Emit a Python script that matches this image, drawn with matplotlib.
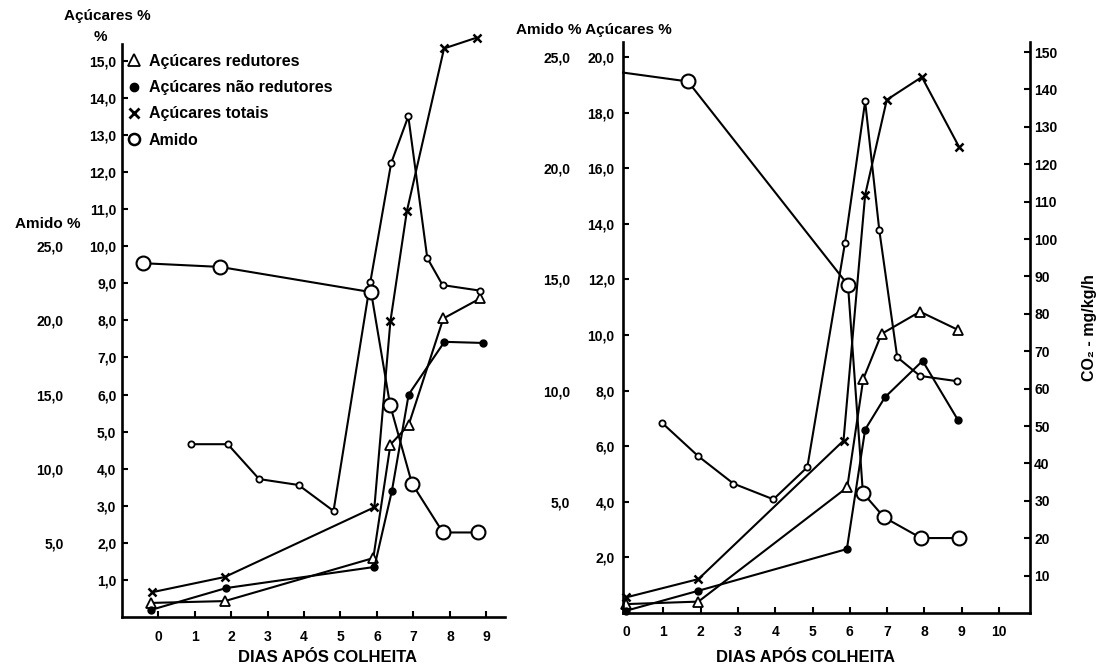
import matplotlib.pyplot as plt
from matplotlib.lines import Line2D

plt.rcParams['font.family'] = ['Liberation Sans', 'DejaVu Sans']
plt.rcParams['font.weight'] = 'bold'
plt.rcParams['axes.labelweight'] = 'bold'

# ---- left panel (sugar %, starch %) ----
red_L_day = [-0.2, 1.83, 5.9, 6.37, 6.87, 7.82, 8.83]
red_L = [0.38, 0.43, 1.59, 4.65, 5.18, 8.05, 8.59]
nred_L_day = [-0.2, 1.86, 5.93, 6.41, 6.87, 7.85, 8.9]
nred_L = [0.19, 0.78, 1.35, 3.4, 6.0, 7.42, 7.39]
tot_L_day = [-0.16, 1.83, 5.93, 6.37, 6.82, 7.84, 8.73]
tot_L = [0.67, 1.08, 2.96, 7.98, 10.94, 15.33, 15.62]
amido_L_day = [-0.41, 1.70, 5.84, 6.36, 6.96, 7.81, 8.77]
amido_L = [23.85, 23.6, 21.9, 14.3, 9.0, 5.7, 5.7]
resp_L_day = [0.9, 1.91, 2.77, 3.85, 4.81, 5.82, 6.39, 6.86, 7.38, 7.8, 8.83]
resp_L = [4.66, 4.66, 3.72, 3.56, 2.86, 9.04, 12.24, 13.5, 9.68, 8.95, 8.8]

# ---- right panel (sugar %, starch %, CO2) ----
red_R_day = [0, 1.94, 5.93, 6.36, 6.85, 7.88, 8.89]
red_R = [0.32, 0.41, 4.52, 8.42, 10.04, 10.84, 10.19]
nred_R_day = [0, 1.94, 5.92, 6.41, 6.94, 7.95, 8.89]
nred_R = [0.08, 0.80, 2.30, 6.6, 7.76, 9.07, 6.96]
tot_R_day = [0, 1.94, 5.83, 6.41, 6.99, 7.93, 8.93]
tot_R = [0.56, 1.22, 6.2, 15.04, 18.46, 19.28, 16.76]
amido_R_day = [-0.08, 1.66, 5.95, 6.35, 6.92, 7.91, 8.93]
amido_R = [24.3, 23.9, 14.75, 5.4, 4.3, 3.37, 3.37]
co2_R_day = [0.96, 1.94, 2.88, 3.95, 4.86, 5.87, 6.41, 6.79, 7.27, 7.88, 8.87]
co2_R = [50.9, 41.9, 34.6, 30.4, 39.0, 99.0, 136.8, 102.3, 68.4, 63.4, 62.0]

legend_labels = ['Açúcares redutores', 'Açúcares não redutores', 'Açúcares totais', 'Amido']


def comma(v):
    return f'{v:.1f}'.replace('.', ',')


def style_axis(ax):
    for s in ['top', 'right']:
        ax.spines[s].set_visible(False)
    for s in ['left', 'bottom']:
        ax.spines[s].set_linewidth(1.9)
    ax.tick_params(direction='in', length=4.5, width=1.5, labelsize=10)
    ax.tick_params(axis='x', pad=9)


def draw_series(ax, axa, rx, ry, nx, ny, tx, ty, ax_, ay, skip_first=False):
    kw = dict(color='black', lw=1.5, clip_on=False)
    ax.plot(rx, ry, marker='^', ms=7, mfc='white', mew=1.3, **kw)
    ax.plot(nx, ny, marker='o', ms=5, mfc='black', **kw)
    ax.plot(tx, ty, marker='x', ms=6, mew=1.8, **kw)
    me = list(range(1, len(ax_))) if skip_first else None
    axa.plot(ax_, ay, marker='o', ms=10, mfc='white', mew=1.5, markevery=me, **kw)


fig = plt.figure(figsize=(11.09, 6.72), dpi=100)

# left panel
axL = fig.add_axes([0.110, 0.0818, 0.345, 0.8527])
style_axis(axL)
axL.set_xlim(-0.99, 9.5)
axL.set_ylim(0, 15.45)
axL.set_yticks(range(1, 16))
axL.set_yticklabels([comma(v) for v in range(1, 16)])
axL.set_xticks(range(0, 10))
axL.tick_params(axis='y', pad=4)

axLa = axL.twinx()
axLa.set_ylim(0, 15.45 * 2.5)
for s in axLa.spines.values():
    s.set_visible(False)
axLa.yaxis.set_ticks_position('left')
axLa.set_yticks([5, 10, 15, 20, 25])
axLa.set_yticklabels([comma(v) for v in [5, 10, 15, 20, 25]])
axLa.tick_params(axis='y', length=0, pad=42, labelsize=10)

draw_series(axL, axLa, red_L_day, red_L, nred_L_day, nred_L, tot_L_day, tot_L, amido_L_day, amido_L)
axL.plot(resp_L_day, resp_L, color='black', lw=1.5, marker='o', ms=4.5, mfc='white', mew=1.3)

handles = [
    Line2D([], [], ls='none', marker='^', ms=9, mfc='white', mec='black', mew=1.3),
    Line2D([], [], ls='none', marker='o', ms=6, color='black'),
    Line2D([], [], ls='none', marker='x', ms=7, mew=2, color='black'),
    Line2D([], [], ls='none', marker='o', ms=8, mfc='white', mec='black', mew=1.8),
]
fig.legend(handles, legend_labels, loc='upper left', bbox_to_anchor=(128 / 1109, 1 - 54 / 672),
           frameon=False, fontsize=11.5, handlelength=0.8, handletextpad=0.5,
           labelspacing=0.7, borderpad=0, borderaxespad=0)

fig.text(107 / 1109, 1 - 16 / 672, 'Açúcares %', ha='center', va='center', fontsize=11)
fig.text(100 / 1109, 1 - 37 / 672, '%', ha='center', va='center', fontsize=11)
fig.text(48 / 1109, 1 - 224 / 672, 'Amido %', ha='center', va='center', fontsize=11)
fig.text(328 / 1109, 1 - 658 / 672, 'DIAS APÓS COLHEITA', ha='center', va='center', fontsize=12)

# right panel
axR = fig.add_axes([0.5618, 0.0878, 0.367, 0.8497])
style_axis(axR)
axR.set_xlim(-0.08, 10.83)
axR.set_ylim(0, 20.54)
axR.set_yticks(range(2, 21, 2))
axR.set_yticklabels([comma(v) for v in range(2, 21, 2)])
axR.set_xticks(range(0, 11))
axR.tick_params(axis='y', pad=6)

axRa = axR.twinx()
axRa.set_ylim(0, 20.54 * 1.25)
for s in axRa.spines.values():
    s.set_visible(False)
axRa.yaxis.set_ticks_position('left')
axRa.set_yticks([5, 10, 15, 20, 25])
axRa.set_yticklabels([comma(v) for v in [5, 10, 15, 20, 25]])
axRa.tick_params(axis='y', length=0, pad=38, labelsize=10)

axRc = axR.twinx()
axRc.set_ylim(0, 152.7)
for s in ['top', 'left', 'bottom']:
    axRc.spines[s].set_visible(False)
axRc.spines['right'].set_linewidth(1.9)
axRc.set_yticks(range(10, 151, 10))
axRc.tick_params(axis='y', direction='in', length=4.5, width=1.5, pad=3, labelsize=10)
axRc.set_ylabel('CO₂ - mg/kg/h', fontsize=11.5, fontweight='bold', labelpad=18)

draw_series(axR, axRa, red_R_day, red_R, nred_R_day, nred_R, tot_R_day, tot_R, amido_R_day, amido_R,
            skip_first=True)
axRc.plot(co2_R_day, co2_R, color='black', lw=1.5, marker='o', ms=4.5, mfc='white', mew=1.3)

fig.text(594 / 1109, 1 - 30 / 672, 'Amido % Açúcares %', ha='center', va='center', fontsize=11)
fig.text(805 / 1109, 1 - 658 / 672, 'DIAS APÓS COLHEITA', ha='center', va='center', fontsize=12)

fig.savefig('out.png', dpi=100, facecolor='white')
